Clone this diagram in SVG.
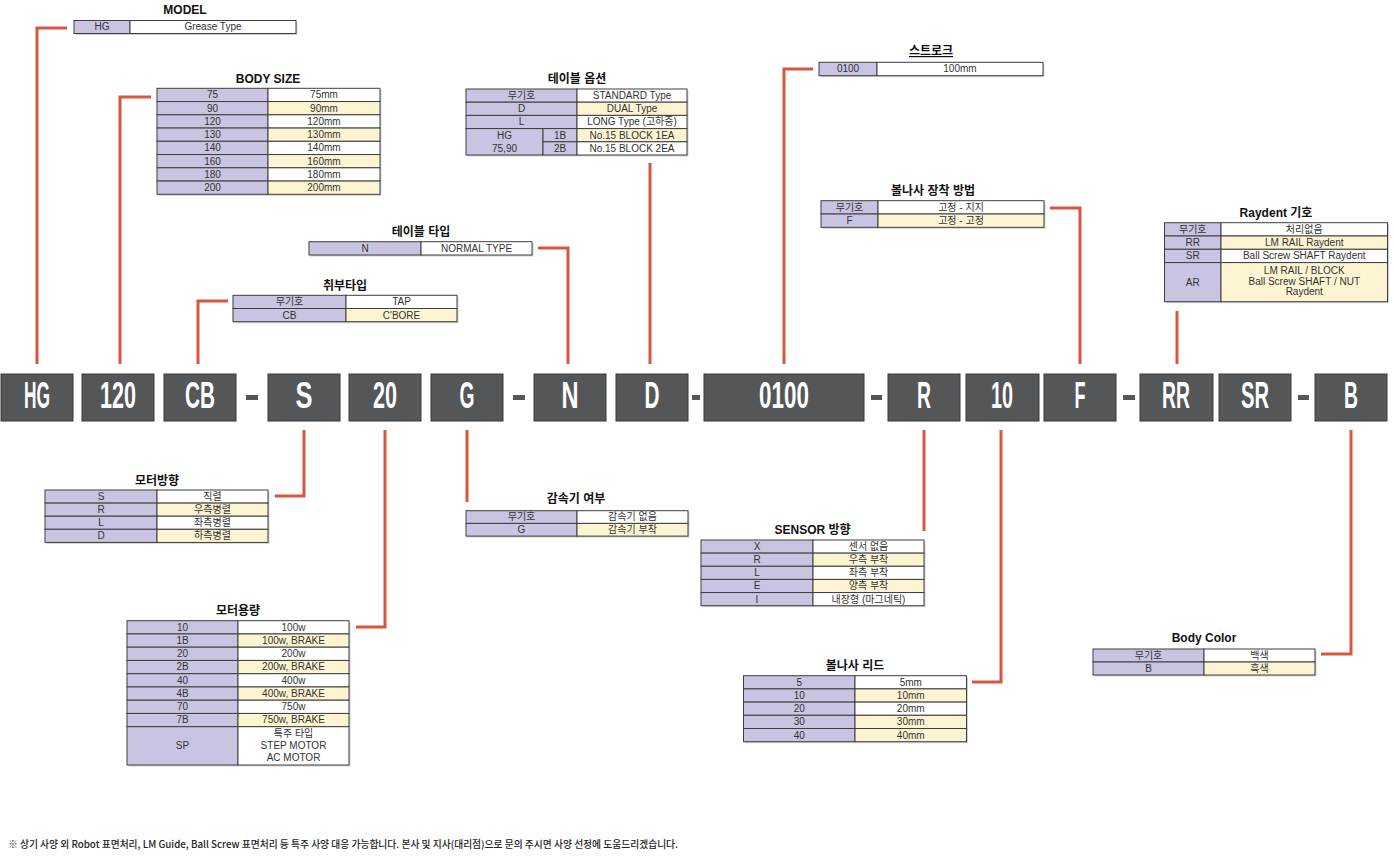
<svg xmlns="http://www.w3.org/2000/svg" width="1394" height="857" viewBox="0 0 1394 857">
<style>
.k{fill:#c9c4e1;stroke:#3e3e3e;stroke-width:1}
.w{fill:#ffffff;stroke:#3e3e3e;stroke-width:1}
.y{fill:#fdf5d2;stroke:#3e3e3e;stroke-width:1}
.sh{fill:#9c9c9c;opacity:.45}
.t{font-family:"Liberation Sans","Noto Sans CJK KR",sans-serif;font-size:10px;fill:#333;text-anchor:middle}
.h{font-family:"Liberation Sans","Noto Sans CJK KR",sans-serif;font-size:12px;font-weight:bold;fill:#111;text-anchor:middle}
.cb{fill:#545658;stroke:#3a3b3d;stroke-width:1}
.ct{font-family:"Liberation Sans",sans-serif;font-size:36px;font-weight:bold;fill:#fff;text-anchor:middle}
.con{fill:none;stroke:#d6573f;stroke-width:3}
.ft{font-family:"Noto Sans CJK KR","Liberation Sans",sans-serif;font-size:10px;font-weight:500;fill:#222}
</style>
<rect width="1394" height="857" fill="#fff"/>

<g id="connectors">
<path class="con" d="M37,364 V28 H67"/>
<path class="con" d="M120,364 V97 H151"/>
<path class="con" d="M198,364 V301 H228"/>
<path class="con" d="M538,248 H568 V364"/>
<path class="con" d="M650,163 V364"/>
<path class="con" d="M784,364 V69 H813"/>
<path class="con" d="M1050,208 H1080 V364"/>
<path class="con" d="M1177,311 V364"/>
<path class="con" d="M304,430 V496 H275"/>
<path class="con" d="M385,430 V627 H356"/>
<path class="con" d="M467,430 V502"/>
<path class="con" d="M924,430 V531"/>
<path class="con" d="M1001,430 V682 H972"/>
<path class="con" d="M1351,430 V654 H1321"/>
</g>

<g id="code">
<rect class="cb" x="1" y="374" width="72" height="47"/>
<text class="ct" x="37" y="408" textLength="26" lengthAdjust="spacingAndGlyphs">HG</text>
<rect class="cb" x="82" y="374" width="72" height="47"/>
<text class="ct" x="118" y="408" textLength="36" lengthAdjust="spacingAndGlyphs">120</text>
<rect class="cb" x="164" y="374" width="72" height="47"/>
<text class="ct" x="200" y="408" textLength="30" lengthAdjust="spacingAndGlyphs">CB</text>
<rect x="246" y="395" width="12" height="5" fill="#555658"/>
<rect class="cb" x="268" y="374" width="72" height="47"/>
<text class="ct" x="304" y="408" textLength="17" lengthAdjust="spacingAndGlyphs">S</text>
<rect class="cb" x="349" y="374" width="72" height="47"/>
<text class="ct" x="385" y="408" textLength="24" lengthAdjust="spacingAndGlyphs">20</text>
<rect class="cb" x="431" y="374" width="72" height="47"/>
<text class="ct" x="467" y="408" textLength="15" lengthAdjust="spacingAndGlyphs">G</text>
<rect x="513" y="395" width="12" height="5" fill="#555658"/>
<rect class="cb" x="534" y="374" width="72" height="47"/>
<text class="ct" x="570" y="408" textLength="17" lengthAdjust="spacingAndGlyphs">N</text>
<rect class="cb" x="616" y="374" width="72" height="47"/>
<text class="ct" x="652" y="408" textLength="15" lengthAdjust="spacingAndGlyphs">D</text>
<rect x="692" y="395" width="8" height="5" fill="#555658"/>
<rect class="cb" x="704" y="374" width="160" height="47"/>
<text class="ct" x="784" y="408" textLength="50" lengthAdjust="spacingAndGlyphs">0100</text>
<rect x="871" y="395" width="11" height="5" fill="#555658"/>
<rect class="cb" x="888" y="374" width="72" height="47"/>
<text class="ct" x="924" y="408" textLength="14" lengthAdjust="spacingAndGlyphs">R</text>
<rect class="cb" x="966" y="374" width="73" height="47"/>
<text class="ct" x="1002" y="408" textLength="22" lengthAdjust="spacingAndGlyphs">10</text>
<rect class="cb" x="1044" y="374" width="72" height="47"/>
<text class="ct" x="1080" y="408" textLength="11" lengthAdjust="spacingAndGlyphs">F</text>
<rect x="1123" y="395" width="12" height="5" fill="#555658"/>
<rect class="cb" x="1140" y="374" width="73" height="47"/>
<text class="ct" x="1176" y="408" textLength="28" lengthAdjust="spacingAndGlyphs">RR</text>
<rect class="cb" x="1219" y="374" width="72" height="47"/>
<text class="ct" x="1255" y="408" textLength="28" lengthAdjust="spacingAndGlyphs">SR</text>
<rect x="1298" y="395" width="11" height="5" fill="#555658"/>
<rect class="cb" x="1315" y="374" width="72" height="47"/>
<text class="ct" x="1351" y="408" textLength="14" lengthAdjust="spacingAndGlyphs">B</text>
</g>

<g id="model">
<text class="h" x="185" y="14">MODEL</text>
<rect class="sh" x="75.5" y="22" width="222" height="13"/>
<rect class="k" x="74" y="20.5" width="56" height="13"/>
<rect class="w" x="130" y="20.5" width="166" height="13"/>
<text class="t" x="102" y="30.4">HG</text>
<text class="t" x="213" y="30.4">Grease Type</text>
</g>

<g id="body-size">
<text class="h" x="268" y="83">BODY SIZE</text>
<rect class="sh" x="158.5" y="89.8" width="223" height="106"/>
<rect class="k" x="157" y="88.3" width="111" height="13.25"/><rect class="w" x="268" y="88.3" width="112" height="13.25"/>
<rect class="k" x="157" y="101.55" width="111" height="13.25"/><rect class="y" x="268" y="101.55" width="112" height="13.25"/>
<rect class="k" x="157" y="114.8" width="111" height="13.25"/><rect class="w" x="268" y="114.8" width="112" height="13.25"/>
<rect class="k" x="157" y="128.05" width="111" height="13.25"/><rect class="y" x="268" y="128.05" width="112" height="13.25"/>
<rect class="k" x="157" y="141.3" width="111" height="13.25"/><rect class="w" x="268" y="141.3" width="112" height="13.25"/>
<rect class="k" x="157" y="154.55" width="111" height="13.25"/><rect class="y" x="268" y="154.55" width="112" height="13.25"/>
<rect class="k" x="157" y="167.8" width="111" height="13.25"/><rect class="w" x="268" y="167.8" width="112" height="13.25"/>
<rect class="k" x="157" y="181.05" width="111" height="13.25"/><rect class="y" x="268" y="181.05" width="112" height="13.25"/>
<text class="t" x="212.5" y="98.3">75</text><text class="t" x="324" y="98.3">75mm</text>
<text class="t" x="212.5" y="111.55">90</text><text class="t" x="324" y="111.55">90mm</text>
<text class="t" x="212.5" y="124.8">120</text><text class="t" x="324" y="124.8">120mm</text>
<text class="t" x="212.5" y="138.05">130</text><text class="t" x="324" y="138.05">130mm</text>
<text class="t" x="212.5" y="151.3">140</text><text class="t" x="324" y="151.3">140mm</text>
<text class="t" x="212.5" y="164.55">160</text><text class="t" x="324" y="164.55">160mm</text>
<text class="t" x="212.5" y="177.8">180</text><text class="t" x="324" y="177.8">180mm</text>
<text class="t" x="212.5" y="191.05">200</text><text class="t" x="324" y="191.05">200mm</text>
</g>

<g id="table-option">
<text class="h" x="577" y="83">테이블 옵션</text>
<rect class="sh" x="467.5" y="90.5" width="221" height="66"/>
<rect class="k" x="466" y="89" width="111" height="13.2"/><rect class="w" x="577" y="89" width="110" height="13.2"/>
<rect class="k" x="466" y="102.2" width="111" height="13.2"/><rect class="y" x="577" y="102.2" width="110" height="13.2"/>
<rect class="k" x="466" y="115.4" width="111" height="13.2"/><rect class="w" x="577" y="115.4" width="110" height="13.2"/>
<rect class="k" x="466" y="128.6" width="77" height="26.4"/>
<rect class="k" x="543" y="128.6" width="34" height="13.2"/><rect class="y" x="577" y="128.6" width="110" height="13.2"/>
<rect class="k" x="543" y="141.8" width="34" height="13.2"/><rect class="w" x="577" y="141.8" width="110" height="13.2"/>
<text class="t" x="521.5" y="99">무기호</text><text class="t" x="632" y="99">STANDARD Type</text>
<text class="t" x="521.5" y="112.2">D</text><text class="t" x="632" y="112.2">DUAL Type</text>
<text class="t" x="521.5" y="125.4">L</text><text class="t" x="632" y="125.4">LONG Type (고하중)</text>
<text class="t" x="504.5" y="138.6">HG</text><text class="t" x="560" y="138.6">1B</text><text class="t" x="632" y="138.6">No.15 BLOCK 1EA</text>
<text class="t" x="504.5" y="151.8">75,90</text><text class="t" x="560" y="151.8">2B</text><text class="t" x="632" y="151.8">No.15 BLOCK 2EA</text>
</g>

<g id="table-type">
<text class="h" x="421" y="236">테이블 타입</text>
<rect class="sh" x="310.5" y="243.2" width="223" height="13.3"/>
<rect class="k" x="309" y="241.7" width="112" height="13.3"/><rect class="w" x="421" y="241.7" width="111" height="13.3"/>
<text class="t" x="365" y="251.7">N</text><text class="t" x="476.5" y="251.7">NORMAL TYPE</text>
</g>

<g id="mount-type">
<text class="h" x="345" y="290">취부타입</text>
<rect class="sh" x="234.5" y="296.8" width="224" height="26.4"/>
<rect class="k" x="233" y="295.3" width="113" height="13.2"/><rect class="w" x="346" y="295.3" width="111" height="13.2"/>
<rect class="k" x="233" y="308.5" width="113" height="13.2"/><rect class="y" x="346" y="308.5" width="111" height="13.2"/>
<text class="t" x="289.5" y="305.3">무기호</text><text class="t" x="401.5" y="305.3">TAP</text>
<text class="t" x="289.5" y="318.5">CB</text><text class="t" x="401.5" y="318.5">C'BORE</text>
</g>

<g id="stroke">
<text class="h" x="931" y="55" text-decoration="underline">스트로크</text>
<rect class="sh" x="820.5" y="63.8" width="224" height="13.4"/>
<rect class="k" x="819" y="62.3" width="58" height="13.4"/><rect class="w" x="877" y="62.3" width="166" height="13.4"/>
<text class="t" x="848" y="72.4">0100</text><text class="t" x="960" y="72.4">100mm</text>
</g>

<g id="ballscrew-mount">
<text class="h" x="933" y="195">볼나사 장착 방법</text>
<rect class="sh" x="822.5" y="202.2" width="223" height="26.6"/>
<rect class="k" x="821" y="200.7" width="57" height="13.3"/><rect class="w" x="878" y="200.7" width="166" height="13.3"/>
<rect class="k" x="821" y="214" width="57" height="13.3"/><rect class="y" x="878" y="214" width="166" height="13.3"/>
<text class="t" x="849.5" y="210.7">무기호</text><text class="t" x="961" y="210.7">고정 - 지지</text>
<text class="t" x="849.5" y="224">F</text><text class="t" x="961" y="224">고정 - 고정</text>
</g>

<g id="raydent">
<text class="h" x="1276" y="216.7">Raydent 기호</text>
<rect class="sh" x="1166" y="224.2" width="223" height="79"/>
<rect class="k" x="1164.5" y="222.7" width="56.5" height="13.3"/><rect class="w" x="1221" y="222.7" width="166.5" height="13.3"/>
<rect class="k" x="1164.5" y="236" width="56.5" height="13.3"/><rect class="y" x="1221" y="236" width="166.5" height="13.3"/>
<rect class="k" x="1164.5" y="249.3" width="56.5" height="13.3"/><rect class="w" x="1221" y="249.3" width="166.5" height="13.3"/>
<rect class="k" x="1164.5" y="262.6" width="56.5" height="39.1"/><rect class="y" x="1221" y="262.6" width="166.5" height="39.1"/>
<text class="t" x="1192.75" y="232.7">무기호</text><text class="t" x="1304.25" y="232.7">처리없음</text>
<text class="t" x="1192.75" y="246">RR</text><text class="t" x="1304.25" y="246">LM RAIL Raydent</text>
<text class="t" x="1192.75" y="259.3">SR</text><text class="t" x="1304.25" y="259.3">Ball Screw SHAFT Raydent</text>
<text class="t" x="1192.75" y="285.5">AR</text>
<text class="t" x="1304.25" y="274">LM RAIL / BLOCK</text>
<text class="t" x="1304.25" y="284.7">Ball Screw SHAFT / NUT</text>
<text class="t" x="1304.25" y="295.4">Raydent</text>
</g>

<g id="motor-direction">
<text class="h" x="157" y="485">모터방향</text>
<rect class="sh" x="46.5" y="491.5" width="223" height="52.4"/>
<rect class="k" x="45" y="490" width="112" height="13.1"/><rect class="w" x="157" y="490" width="111" height="13.1"/>
<rect class="k" x="45" y="503.1" width="112" height="13.1"/><rect class="y" x="157" y="503.1" width="111" height="13.1"/>
<rect class="k" x="45" y="516.2" width="112" height="13.1"/><rect class="w" x="157" y="516.2" width="111" height="13.1"/>
<rect class="k" x="45" y="529.3" width="112" height="13.1"/><rect class="y" x="157" y="529.3" width="111" height="13.1"/>
<text class="t" x="101" y="500">S</text><text class="t" x="212.5" y="500">직렬</text>
<text class="t" x="101" y="513.1">R</text><text class="t" x="212.5" y="513.1">우측병렬</text>
<text class="t" x="101" y="526.2">L</text><text class="t" x="212.5" y="526.2">좌측병렬</text>
<text class="t" x="101" y="539.3">D</text><text class="t" x="212.5" y="539.3">하측병렬</text>
</g>

<g id="motor-capacity">
<text class="h" x="238" y="615">모터용량</text>
<rect class="sh" x="128.5" y="622.2" width="222" height="144.3"/>
<rect class="k" x="127" y="620.7" width="111" height="13.25"/><rect class="w" x="238" y="620.7" width="111" height="13.25"/>
<rect class="k" x="127" y="633.95" width="111" height="13.25"/><rect class="y" x="238" y="633.95" width="111" height="13.25"/>
<rect class="k" x="127" y="647.2" width="111" height="13.25"/><rect class="w" x="238" y="647.2" width="111" height="13.25"/>
<rect class="k" x="127" y="660.45" width="111" height="13.25"/><rect class="y" x="238" y="660.45" width="111" height="13.25"/>
<rect class="k" x="127" y="673.7" width="111" height="13.25"/><rect class="w" x="238" y="673.7" width="111" height="13.25"/>
<rect class="k" x="127" y="686.95" width="111" height="13.25"/><rect class="y" x="238" y="686.95" width="111" height="13.25"/>
<rect class="k" x="127" y="700.2" width="111" height="13.25"/><rect class="w" x="238" y="700.2" width="111" height="13.25"/>
<rect class="k" x="127" y="713.45" width="111" height="13.25"/><rect class="y" x="238" y="713.45" width="111" height="13.25"/>
<rect class="k" x="127" y="726.7" width="111" height="38.3"/><rect class="w" x="238" y="726.7" width="111" height="38.3"/>
<text class="t" x="182.5" y="630.7">10</text><text class="t" x="293.5" y="630.7">100w</text>
<text class="t" x="182.5" y="643.95">1B</text><text class="t" x="293.5" y="643.95">100w, BRAKE</text>
<text class="t" x="182.5" y="657.2">20</text><text class="t" x="293.5" y="657.2">200w</text>
<text class="t" x="182.5" y="670.45">2B</text><text class="t" x="293.5" y="670.45">200w, BRAKE</text>
<text class="t" x="182.5" y="683.7">40</text><text class="t" x="293.5" y="683.7">400w</text>
<text class="t" x="182.5" y="696.95">4B</text><text class="t" x="293.5" y="696.95">400w, BRAKE</text>
<text class="t" x="182.5" y="710.2">70</text><text class="t" x="293.5" y="710.2">750w</text>
<text class="t" x="182.5" y="723.45">7B</text><text class="t" x="293.5" y="723.45">750w, BRAKE</text>
<text class="t" x="182.5" y="749.2">SP</text>
<text class="t" x="293.5" y="736.7">특주 타입</text>
<text class="t" x="293.5" y="749">STEP MOTOR</text>
<text class="t" x="293.5" y="761">AC MOTOR</text>
</g>

<g id="reducer">
<text class="h" x="576" y="503">감속기 여부</text>
<rect class="sh" x="467.5" y="512.2" width="222" height="25.4"/>
<rect class="k" x="466" y="510.7" width="111" height="12.7"/><rect class="w" x="577" y="510.7" width="111" height="12.7"/>
<rect class="k" x="466" y="523.4" width="111" height="12.7"/><rect class="y" x="577" y="523.4" width="111" height="12.7"/>
<text class="t" x="521.5" y="520.4">무기호</text><text class="t" x="632.5" y="520.4">감속기 없음</text>
<text class="t" x="521.5" y="533.1">G</text><text class="t" x="632.5" y="533.1">감속기 부착</text>
</g>

<g id="sensor">
<text class="h" x="812.5" y="534">SENSOR 방향</text>
<rect class="sh" x="702.5" y="541.5" width="223" height="65.7"/>
<rect class="k" x="701" y="540" width="112" height="13.14"/><rect class="w" x="813" y="540" width="111" height="13.14"/>
<rect class="k" x="701" y="553.14" width="112" height="13.14"/><rect class="y" x="813" y="553.14" width="111" height="13.14"/>
<rect class="k" x="701" y="566.28" width="112" height="13.14"/><rect class="w" x="813" y="566.28" width="111" height="13.14"/>
<rect class="k" x="701" y="579.42" width="112" height="13.14"/><rect class="y" x="813" y="579.42" width="111" height="13.14"/>
<rect class="k" x="701" y="592.56" width="112" height="13.14"/><rect class="w" x="813" y="592.56" width="111" height="13.14"/>
<text class="t" x="757" y="550">X</text><text class="t" x="868.5" y="550">센서 없음</text>
<text class="t" x="757" y="563.14">R</text><text class="t" x="868.5" y="563.14">우측 부착</text>
<text class="t" x="757" y="576.28">L</text><text class="t" x="868.5" y="576.28">좌측 부착</text>
<text class="t" x="757" y="589.42">E</text><text class="t" x="868.5" y="589.42">양측 부착</text>
<text class="t" x="757" y="602.56">I</text><text class="t" x="868.5" y="602.56">내장형 (마그네틱)</text>
</g>

<g id="ballscrew-lead">
<text class="h" x="855" y="670">볼나사 리드</text>
<rect class="sh" x="745" y="677.2" width="223" height="66"/>
<rect class="k" x="743.5" y="675.7" width="111.5" height="13.2"/><rect class="w" x="855" y="675.7" width="111.5" height="13.2"/>
<rect class="k" x="743.5" y="688.9" width="111.5" height="13.2"/><rect class="y" x="855" y="688.9" width="111.5" height="13.2"/>
<rect class="k" x="743.5" y="702.1" width="111.5" height="13.2"/><rect class="w" x="855" y="702.1" width="111.5" height="13.2"/>
<rect class="k" x="743.5" y="715.3" width="111.5" height="13.2"/><rect class="y" x="855" y="715.3" width="111.5" height="13.2"/>
<rect class="k" x="743.5" y="728.5" width="111.5" height="13.2"/><rect class="y" x="855" y="728.5" width="111.5" height="13.2"/>
<text class="t" x="799.25" y="685.7">5</text><text class="t" x="910.75" y="685.7">5mm</text>
<text class="t" x="799.25" y="698.9">10</text><text class="t" x="910.75" y="698.9">10mm</text>
<text class="t" x="799.25" y="712.1">20</text><text class="t" x="910.75" y="712.1">20mm</text>
<text class="t" x="799.25" y="725.3">30</text><text class="t" x="910.75" y="725.3">30mm</text>
<text class="t" x="799.25" y="738.5">40</text><text class="t" x="910.75" y="738.5">40mm</text>
</g>

<g id="body-color">
<text class="h" x="1204" y="642">Body Color</text>
<rect class="sh" x="1094.5" y="650.5" width="222" height="26"/>
<rect class="k" x="1093" y="649" width="111" height="13"/><rect class="w" x="1204" y="649" width="111" height="13"/>
<rect class="k" x="1093" y="662" width="111" height="13"/><rect class="y" x="1204" y="662" width="111" height="13"/>
<text class="t" x="1148.5" y="659">무기호</text><text class="t" x="1259.5" y="659">백색</text>
<text class="t" x="1148.5" y="672">B</text><text class="t" x="1259.5" y="672">흑색</text>
</g>

<g id="footer">
<text class="ft" x="8" y="848" textLength="670" lengthAdjust="spacingAndGlyphs">※ 상기 사양 외 Robot 표면처리, LM Guide, Ball Screw 표면처리 등 특주 사양 대응 가능합니다. 본사 및 지사(대리점)으로 문의 주시면 사양 선정에 도움드리겠습니다.</text>
</g>
</svg>
